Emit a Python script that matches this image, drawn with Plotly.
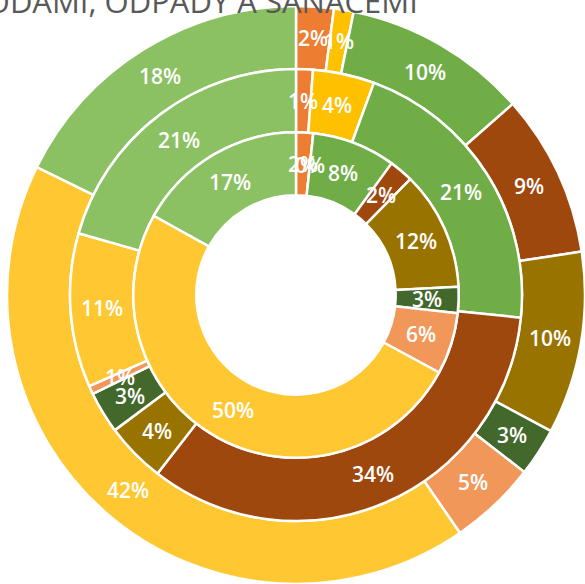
import math
import plotly.graph_objects as go

categories = ["Kat. 1", "Kat. 2", "Kat. 3", "Kat. 4", "Kat. 5", "Kat. 6", "Kat. 7", "Kat. 8", "Kat. 9"]
colors = ["#ED7D31", "#FFC000", "#70AD47", "#9E480E", "#997300", "#43682B", "#F1975A", "#FFC832", "#8BC163"]

# shares (%) per ring, clockwise from 12 o'clock
outer_vals = [2.1, 1.1, 10.3, 9.1, 10.2, 2.7, 4.9, 41.9, 17.7]
middle_vals = [1.2, 4.4, 21.0, 33.9, 4.3, 3.0, 0.6, 11.0, 20.6]
inner_vals = [1.7, 0.0, 8.3, 2.4, 11.8, 2.6, 6.1, 50.2, 16.9]

title_text = "HOSPODAŘENÍ S VODAMI, ODPADY A SANACEMI"

W, H = 585, 584
cx, cy, R = 296, 295, 289
fr = [1.0, 0.782, 0.563, 0.345]  # outer radii of rings and hole (fraction of R)


def dom(f):
    r = R * f
    x0 = (cx - r) / W
    x1 = (cx + r) / W
    y0 = 1 - (cy + r) / H
    y1 = 1 - (cy - r) / H
    return dict(x=[max(0, x0), min(1, x1)], y=[max(0, y0), min(1, y1)])


fig = go.Figure()
rings = [(outer_vals, fr[0], fr[1]), (middle_vals, fr[1], fr[2]), (inner_vals, fr[2], fr[3])]
for vals, fo, fi in rings:
    fig.add_trace(go.Pie(
        labels=categories, values=vals, sort=False, direction="clockwise", rotation=0,
        hole=fi / fo, domain=dom(fo),
        marker=dict(colors=colors, line=dict(color="white", width=2.5)),
        textinfo="none",
        showlegend=False, hoverinfo="label+percent",
    ))

# data labels at the middle of each segment (Excel style)
for vals, fo, fi in rings:
    total = sum(vals)
    rmid = R * (fo + fi) / 2
    cum = 0
    for v in vals:
        a = math.radians((cum + v / 2) / total * 360)
        cum += v
        px = cx + rmid * math.sin(a)
        py = cy - rmid * math.cos(a)
        fig.add_annotation(
            text=f"{round(v / total * 100)}%", xref="paper", yref="paper",
            x=px / W, y=1 - py / H, xanchor="center", yanchor="middle", showarrow=False,
            font=dict(family="Open Sans", size=21, color="white", weight=600),
        )

fig.add_annotation(
    text=title_text, xref="paper", yref="paper", x=420 / W, y=1 - 1 / H,
    xanchor="right", yanchor="middle", showarrow=False,
    font=dict(family="Open Sans", size=31, color="#595959"),
)

fig.update_layout(
    width=W, height=H, margin=dict(l=0, r=0, t=0, b=0),
    paper_bgcolor="white", plot_bgcolor="white",
)

fig.write_html("out.html", config={"displayModeBar": False},
               post_script="document.body.style.margin='0';")
